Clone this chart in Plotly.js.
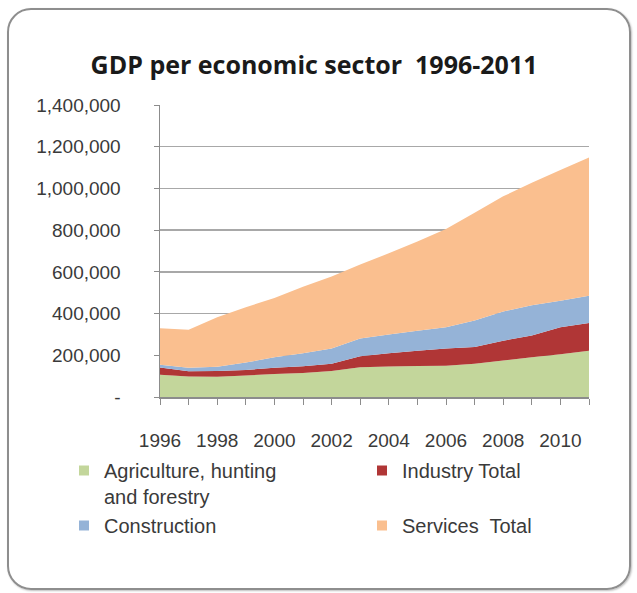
<!DOCTYPE html>
<html>
<head>
<meta charset="utf-8">
<script src="https://cdn.plot.ly/plotly-3.0.1.min.js"></script>
<style>
  html, body { margin: 0; padding: 0; background: #ffffff; }
  #wrap { position: relative; width: 637px; height: 593px; }
  #chart { position: absolute; left: 0; top: 0; width: 637px; height: 593px; }
  #frame { position: absolute; left: 7px; top: 8px; width: 620px; height: 578px;
           border: 2px solid #8e8e8e; border-radius: 24px; pointer-events: none;
           box-shadow: 1px 1px 2px rgba(0,0,0,0.25); }
</style>
</head>
<body>
<div id="wrap">
  <div id="chart"></div>
  <div id="frame"></div>
</div>
<script>
const years = [1996,1997,1998,1999,2000,2001,2002,2003,2004,2005,2006,2007,2008,2009,2010,2011];
const agriculture = [107000,98000,97000,103000,110000,115000,125000,143000,146000,149000,150000,160000,175000,190000,205000,222000];
const industry    = [35000,25000,28000,27000,30000,33000,35000,52000,64000,73000,82000,80000,95000,105000,130000,133000];
const construction= [13000,17000,20000,35000,50000,62000,72000,85000,90000,96000,103000,127000,140000,145000,127000,130000];
const services    = [175000,182000,237000,265000,285000,318000,346000,355000,389000,427000,470000,516000,552000,587000,626000,663000];

const seriesNames = ['Agriculture, hunting<br>and forestry', 'Industry Total<br>\u00a0', 'Construction', 'Services  Total'];
const seriesLegend = ['legend', 'legend2', 'legend', 'legend2'];
const seriesColors = ['#c3d69b', '#b03636', '#95b3d7', '#fabf8f'];
const seriesData = [agriculture, industry, construction, services];

const yTickVals = [0,200000,400000,600000,800000,1000000,1200000,1400000];
const yTickText = ['-','200,000','400,000','600,000','800,000','1,000,000','1,200,000','1,400,000'];
const xTickText = years.map(y => (y % 2 === 0 && y <= 2010) ? String(y) : '');

const narrow = 'Liberation Sans Narrow, Arial Narrow, Liberation Sans, Arial, sans-serif';

const traces = [];
seriesData.forEach((d, i) => {
  traces.push({
    x: years, y: d, type: 'scatter', mode: 'none', stackgroup: 'one',
    fill: 'tonexty', fillcolor: seriesColors[i], line: {width: 0},
    showlegend: false, hoverinfo: 'skip'
  });
});
seriesData.forEach((d, i) => {
  traces.push({
    x: [null], y: [null], type: 'scatter', mode: 'markers', name: seriesNames[i],
    legend: seriesLegend[i],
    marker: {symbol: 'square', size: 10, color: seriesColors[i]},
    showlegend: true
  });
});

// plot area: x 160..589 px, y 105..397 px
const pw = 429, ph = 292;
const legendCommon = {
  orientation: 'v', xanchor: 'left', yanchor: 'top',
  traceorder: 'normal', valign: 'top', itemwidth: 30, bgcolor: 'rgba(0,0,0,0)',
  font: {family: narrow, size: 20, color: '#3a3a3a'}, tracegroupgap: 0
};

const layout = {
  width: 637, height: 593,
  paper_bgcolor: 'rgba(0,0,0,0)', plot_bgcolor: '#ffffff',
  margin: {l: 160, r: 48, t: 105, b: 196},
  title: {
    text: '<b>GDP per economic sector\u00a0\u00a01996-2011</b>',
    x: 0.493, xanchor: 'center', y: 0.89, yanchor: 'middle',
    font: {family: 'Open Sans, Noto Sans, sans-serif', size: 25, color: '#1a1a1a'}
  },
  xaxis: {
    range: [1996, 2011], tickmode: 'array', tickvals: years, ticktext: xTickText,
    ticks: 'outside', ticklen: 6, tickcolor: '#8c8c8c', tickwidth: 1,
    showline: true, linecolor: '#8c8c8c', linewidth: 1.5,
    showgrid: false, zeroline: false,
    tickangle: 0, ticklabelstandoff: 20,
    tickfont: {family: narrow, size: 19, color: '#3a3a3a'}
  },
  yaxis: {
    range: [0, 1400000], tickmode: 'array', tickvals: yTickVals, ticktext: yTickText,
    ticks: 'outside', ticklen: 5, tickcolor: '#8c8c8c',
    showline: true, linecolor: '#8c8c8c', linewidth: 1.5,
    showgrid: true, gridcolor: '#a8a8a8', gridwidth: 1.5, zeroline: false,
    ticklabelstandoff: 29,
    tickfont: {family: narrow, size: 19, color: '#3a3a3a'}
  },
  showlegend: true,
  legend: Object.assign({}, legendCommon, {x: (64 - 160) / pw, y: (397 - 451) / ph}),
  legend2: Object.assign({}, legendCommon, {x: (362 - 160) / pw, y: (397 - 451) / ph})
};

Plotly.newPlot('chart', traces, layout, {displayModeBar: false, staticPlot: true});
</script>
</body>
</html>
